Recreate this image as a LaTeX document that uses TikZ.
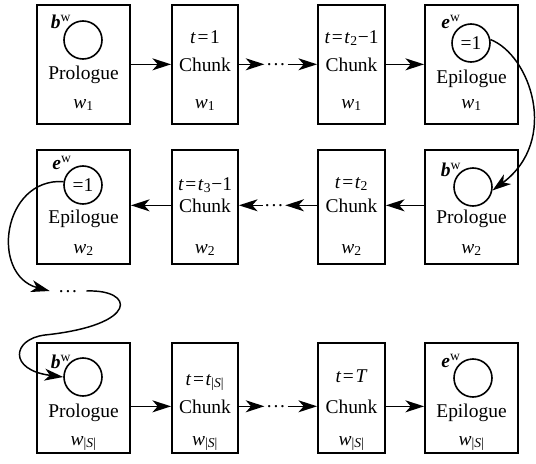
\documentclass[tikz,border=0pt]{standalone}
\usepackage{fontspec}
\setmainfont{Liberation Serif}
\usetikzlibrary{arrows.meta}

% small helpers for the inline symbols
\newcommand{\tv}{\textit{t}}
\newcommand{\eqk}{\kern1.2pt=\kern1.2pt}
\newcommand{\wv}[1]{\textit{w}\textsubscript{#1}}
\newcommand{\wS}{\textit{w}\textsubscript{|\textit{S}|}}
\newcommand{\bw}{\textbf{\textit{b}}\textsuperscript{w}}
\newcommand{\ew}{\textbf{\textit{e}}\textsuperscript{w}}
% three dots centred on the connector line
\newcommand{\cdotsrow}{\raisebox{-0.8pt}[0pt][0pt]{.\kern1.3pt.\kern1.3pt.}}

\begin{document}
\begin{tikzpicture}[x=0.75pt,y=-0.75pt,
  font=\fontsize{14.6}{17}\selectfont,
  box/.style={draw, line width=1.4pt, rectangle, inner sep=0pt},
  wide/.style={minimum width=69.75pt},
  narrowB/.style={minimum width=49.5pt},
  narrowC/.style={minimum width=50.25pt},
  rowone/.style={minimum height=89.25pt},
  rowtwo/.style={minimum height=85.5pt},
  rowthree/.style={minimum height=82.5pt},
  txt/.style={inner sep=0pt, anchor=base},
  circ/.style={draw, circle, line width=1.2pt, minimum size=28.5pt, inner sep=0pt},
  lbl/.style={inner sep=0pt},
  dots/.style={inner sep=0pt, minimum height=6pt, minimum width=17pt},
  tip/.tip={Stealth[length=14pt,width=9pt,inset=4pt]},
  arr/.style={-tip, line width=1.1pt}
]
\useasboundingbox (0,0) rectangle (536,464);

% ---------- row 1 ----------
\node[box, wide, rowone]    (A1) at (83.5,64.5) {};
\node[box, narrowB, rowone] (B1) at (205,64.5) {};
\node[box, narrowC, rowone] (C1) at (351.5,64.5) {};
\node[box, wide, rowone]    (D1) at (471.5,64.5) {};

\node[circ] (cA1) at (83,40) {};
\node[lbl] (lA1) at ([shift={(-22,-18)}]cA1.center) {\bw};
\node[txt] (A1n) at (83.5,79) {Prologue};
\node[txt] (A1w) at (83.5,108) {\wv{1}};

\node[txt] (B1t) at (205,43) {\tv\eqk 1};
\node[txt] (B1c) at (205,71) {Chunk};
\node[txt] (B1w) at (205,108) {\wv{1}};

\node[txt] (C1t) at (351.5,43) {\tv\eqk\tv\textsubscript{2}−1};
\node[txt] (C1c) at (351.5,71) {Chunk};
\node[txt] (C1w) at (351.5,108) {\wv{1}};

\node[circ] (cD1) at (471,43) {=1};
\node[lbl] (lD1) at ([shift={(-20,-21)}]cD1.center) {\ew};
\node[txt] (D1n) at (471.5,83) {Epilogue};
\node[txt] (D1w) at (471.5,108) {\wv{1}};

\node[dots] (d1) at (276,64.3) {\cdotsrow};
\draw[arr] (A1.east |- B1c) -- (B1.west |- B1c);
\draw[arr] (B1.east |- d1) -- (d1.west);
\draw[arr] (d1.east) -- (C1.west |- d1);
\draw[arr] (C1.east |- C1c) -- (D1.west |- C1c);

% ---------- row 2 ----------
\node[box, wide, rowtwo]    (A2) at (83.5,207) {};
\node[box, narrowB, rowtwo] (B2) at (205,207) {};
\node[box, narrowC, rowtwo] (C2) at (351.5,207) {};
\node[box, wide, rowtwo]    (D2) at (471.5,207) {};

\node[circ] (cA2) at (83,185) {=1};
\node[lbl] (lA2) at ([shift={(-21,-22)}]cA2.center) {\ew};
\node[txt] (A2n) at (83.5,223) {Epilogue};
\node[txt] (A2w) at (83.5,253) {\wv{2}};

\node[txt] (B2t) at (205,190) {\tv\eqk\tv\textsubscript{3}−1};
\node[txt] (B2c) at (205,212) {Chunk};
\node[txt] (B2w) at (205,253) {\wv{2}};

\node[txt] (C2t) at (351.5,188) {\tv\eqk\tv\textsubscript{2}};
\node[txt] (C2c) at (351.5,212) {Chunk};
\node[txt] (C2w) at (351.5,253) {\wv{2}};

\node[circ] (cD2) at (473,187) {};
\node[lbl] (lD2) at ([shift={(-22,-17)}]cD2.center) {\bw};
\node[txt] (D2n) at (471.5,223) {Prologue};
\node[txt] (D2w) at (471.5,253) {\wv{2}};

\node[dots, minimum width=16.5pt] (d2) at (274,205.3) {\cdotsrow};
\draw[arr] (D2.west |- C2c) -- (C2.east |- C2c);
\draw[arr] (C2.west |- d2) -- (d2.east);
\draw[arr] (d2.west) -- (B2.east |- d2);
\draw[arr] (B2.west |- B2c) -- (A2.east |- B2c);

% ---------- row 3 ----------
\node[box, wide, rowthree]    (A3) at (83.5,398) {};
\node[box, narrowB, rowthree] (B3) at (205,398) {};
\node[box, narrowC, rowthree] (C3) at (351.5,398) {};
\node[box, wide, rowthree]    (D3) at (471.5,398) {};

\node[circ] (cA3) at (83,377) {};
\node[lbl] (lA3) at ([shift={(-22,-15)}]cA3.center) {\bw};
\node[txt] (A3n) at (83.5,417) {Prologue};
\node[txt] (A3w) at (83.5,445) {\wS};

\node[txt] (B3t) at (205,385) {\tv\eqk\tv\textsubscript{|\textit{S}|}};
\node[txt] (B3c) at (205,413) {Chunk};
\node[txt] (B3w) at (205,445) {\wS};

\node[txt] (C3t) at (351.5,382) {\tv\eqk\textit{T}};
\node[txt] (C3c) at (351.5,413) {Chunk};
\node[txt] (C3w) at (351.5,445) {\wS};

\node[circ] (cD3) at (473,378) {};
\node[lbl] (lD3) at ([shift={(-22,-17)}]cD3.center) {\ew};
\node[txt] (D3n) at (471.5,417) {Epilogue};
\node[txt] (D3w) at (471.5,445) {\wS};

\node[dots] (d3) at (276,406.3) {\cdotsrow};
\draw[arr] (A3.east |- B3c) -- (B3.west |- B3c);
\draw[arr] (B3.east |- d3) -- (d3.west);
\draw[arr] (d3.east) -- (C3.west |- d3);
\draw[arr] (C3.east |- C3c) -- (D3.west |- C3c);

% ---------- links between the rows ----------
\draw[arr] (cD1.10) .. controls (530,55) and (560,140) .. (cD2.-10);

\node[dots, minimum width=27pt] (dm) at (68,291) {\cdotsrow};
\draw[arr] (cA2.170) .. controls (2,178) and (-10,275) .. (dm.west);
\draw[line width=1.1pt] (dm.east) .. controls (135,289) and (140,325) .. (45,335);
\draw[arr] (45,335) .. controls (12,339) and (8,370) .. (cA3.west);
\end{tikzpicture}
\end{document}
